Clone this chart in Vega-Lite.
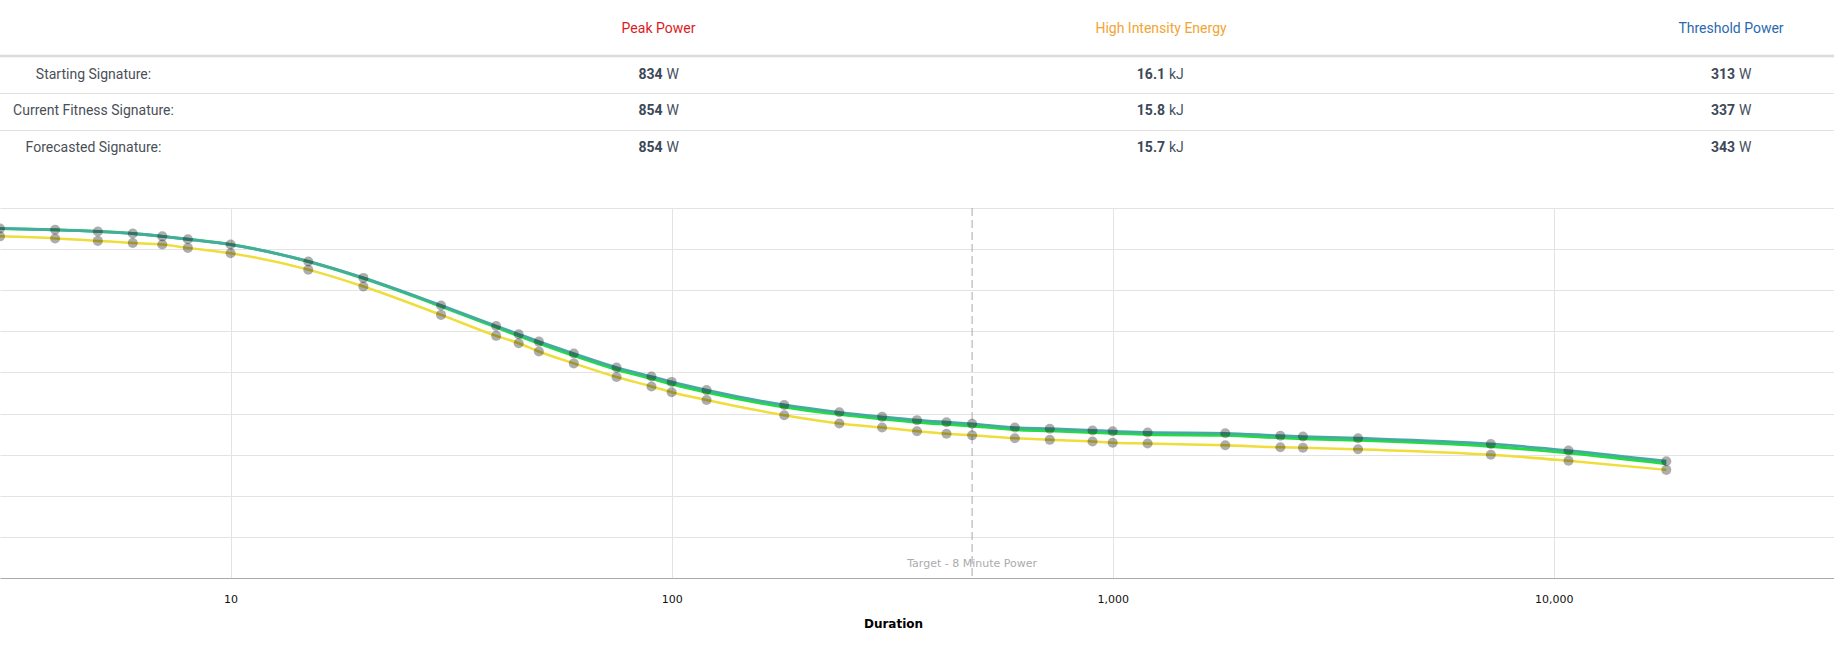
{
  "$schema": "https://vega.github.io/schema/vega-lite/v6.json",
  "padding": 0,
  "spacing": 0,
  "config": {"view": {"stroke": null}, "font": "Roboto", "concat": {"spacing": 0}},
  "datasets": {
    "separators": [
      {"row": 0.5, "kind": "header"},
      {"row": 1.5, "kind": "row"},
      {"row": 2.5, "kind": "row"}
    ],
    "metrics": [
      {"metric": "Peak Power", "col": 1, "row": 0},
      {"metric": "High Intensity Energy", "col": 2, "row": 0},
      {"metric": "Threshold Power", "col": 3, "row": 0}
    ],
    "signatures": [
      {"signature": "Starting Signature:", "col": 0, "row": 1},
      {"signature": "Current Fitness Signature:", "col": 0, "row": 2},
      {"signature": "Forecasted Signature:", "col": 0, "row": 3}
    ],
    "signatureValues": [
      {"signature": "Starting Signature", "row": 1, "metric": "Peak Power", "col": 1, "value": "834", "unit": "W"},
      {"signature": "Starting Signature", "row": 1, "metric": "High Intensity Energy", "col": 2, "value": "16.1", "unit": "kJ"},
      {"signature": "Starting Signature", "row": 1, "metric": "Threshold Power", "col": 3, "value": "313", "unit": "W"},
      {"signature": "Current Fitness Signature", "row": 2, "metric": "Peak Power", "col": 1, "value": "854", "unit": "W"},
      {"signature": "Current Fitness Signature", "row": 2, "metric": "High Intensity Energy", "col": 2, "value": "15.8", "unit": "kJ"},
      {"signature": "Current Fitness Signature", "row": 2, "metric": "Threshold Power", "col": 3, "value": "337", "unit": "W"},
      {"signature": "Forecasted Signature", "row": 3, "metric": "Peak Power", "col": 1, "value": "854", "unit": "W"},
      {"signature": "Forecasted Signature", "row": 3, "metric": "High Intensity Energy", "col": 2, "value": "15.7", "unit": "kJ"},
      {"signature": "Forecasted Signature", "row": 3, "metric": "Threshold Power", "col": 3, "value": "343", "unit": "W"}
    ],
    "annotation": [
      {"duration": 480, "label": "Target - 8 Minute Power"}
    ],
    "curves": [
      {"duration": 3, "signature": "Starting", "watts": 831},
      {"duration": 4, "signature": "Starting", "watts": 826},
      {"duration": 5, "signature": "Starting", "watts": 820},
      {"duration": 6, "signature": "Starting", "watts": 815},
      {"duration": 7, "signature": "Starting", "watts": 811},
      {"duration": 8, "signature": "Starting", "watts": 803},
      {"duration": 10, "signature": "Starting", "watts": 790},
      {"duration": 15, "signature": "Starting", "watts": 750},
      {"duration": 20, "signature": "Starting", "watts": 709},
      {"duration": 30, "signature": "Starting", "watts": 640},
      {"duration": 40, "signature": "Starting", "watts": 589},
      {"duration": 45, "signature": "Starting", "watts": 571},
      {"duration": 50, "signature": "Starting", "watts": 551},
      {"duration": 60, "signature": "Starting", "watts": 522},
      {"duration": 75, "signature": "Starting", "watts": 489},
      {"duration": 90, "signature": "Starting", "watts": 466},
      {"duration": 100, "signature": "Starting", "watts": 452},
      {"duration": 120, "signature": "Starting", "watts": 433},
      {"duration": 180, "signature": "Starting", "watts": 396},
      {"duration": 240, "signature": "Starting", "watts": 376},
      {"duration": 300, "signature": "Starting", "watts": 366},
      {"duration": 360, "signature": "Starting", "watts": 357},
      {"duration": 420, "signature": "Starting", "watts": 351},
      {"duration": 480, "signature": "Starting", "watts": 347},
      {"duration": 600, "signature": "Starting", "watts": 340},
      {"duration": 720, "signature": "Starting", "watts": 336},
      {"duration": 900, "signature": "Starting", "watts": 332},
      {"duration": 1000, "signature": "Starting", "watts": 329},
      {"duration": 1200, "signature": "Starting", "watts": 327},
      {"duration": 1800, "signature": "Starting", "watts": 323},
      {"duration": 2400, "signature": "Starting", "watts": 318},
      {"duration": 2700, "signature": "Starting", "watts": 317},
      {"duration": 3600, "signature": "Starting", "watts": 313},
      {"duration": 7200, "signature": "Starting", "watts": 300},
      {"duration": 10800, "signature": "Starting", "watts": 285},
      {"duration": 18000, "signature": "Starting", "watts": 263},
      {"duration": 3, "signature": "Current", "watts": 850},
      {"duration": 4, "signature": "Current", "watts": 847},
      {"duration": 5, "signature": "Current", "watts": 843},
      {"duration": 6, "signature": "Current", "watts": 838},
      {"duration": 7, "signature": "Current", "watts": 831},
      {"duration": 8, "signature": "Current", "watts": 824},
      {"duration": 10, "signature": "Current", "watts": 811},
      {"duration": 15, "signature": "Current", "watts": 770},
      {"duration": 20, "signature": "Current", "watts": 729},
      {"duration": 30, "signature": "Current", "watts": 661},
      {"duration": 40, "signature": "Current", "watts": 610},
      {"duration": 45, "signature": "Current", "watts": 589},
      {"duration": 50, "signature": "Current", "watts": 571},
      {"duration": 60, "signature": "Current", "watts": 541},
      {"duration": 75, "signature": "Current", "watts": 507},
      {"duration": 90, "signature": "Current", "watts": 485},
      {"duration": 100, "signature": "Current", "watts": 472},
      {"duration": 120, "signature": "Current", "watts": 452},
      {"duration": 180, "signature": "Current", "watts": 416},
      {"duration": 240, "signature": "Current", "watts": 398},
      {"duration": 300, "signature": "Current", "watts": 387},
      {"duration": 360, "signature": "Current", "watts": 379},
      {"duration": 420, "signature": "Current", "watts": 374},
      {"duration": 480, "signature": "Current", "watts": 370},
      {"duration": 600, "signature": "Current", "watts": 361},
      {"duration": 720, "signature": "Current", "watts": 358},
      {"duration": 900, "signature": "Current", "watts": 354},
      {"duration": 1000, "signature": "Current", "watts": 352},
      {"duration": 1200, "signature": "Current", "watts": 349},
      {"duration": 1800, "signature": "Current", "watts": 347},
      {"duration": 2400, "signature": "Current", "watts": 341},
      {"duration": 2700, "signature": "Current", "watts": 339},
      {"duration": 3600, "signature": "Current", "watts": 335},
      {"duration": 7200, "signature": "Current", "watts": 320},
      {"duration": 10800, "signature": "Current", "watts": 304},
      {"duration": 18000, "signature": "Current", "watts": 278},
      {"duration": 3, "signature": "Forecasted", "watts": 850},
      {"duration": 4, "signature": "Forecasted", "watts": 847},
      {"duration": 5, "signature": "Forecasted", "watts": 843},
      {"duration": 6, "signature": "Forecasted", "watts": 838},
      {"duration": 7, "signature": "Forecasted", "watts": 831},
      {"duration": 8, "signature": "Forecasted", "watts": 824},
      {"duration": 10, "signature": "Forecasted", "watts": 811},
      {"duration": 15, "signature": "Forecasted", "watts": 770},
      {"duration": 20, "signature": "Forecasted", "watts": 730},
      {"duration": 30, "signature": "Forecasted", "watts": 663},
      {"duration": 40, "signature": "Forecasted", "watts": 613},
      {"duration": 45, "signature": "Forecasted", "watts": 593},
      {"duration": 50, "signature": "Forecasted", "watts": 575},
      {"duration": 60, "signature": "Forecasted", "watts": 546},
      {"duration": 75, "signature": "Forecasted", "watts": 512},
      {"duration": 90, "signature": "Forecasted", "watts": 490},
      {"duration": 100, "signature": "Forecasted", "watts": 477},
      {"duration": 120, "signature": "Forecasted", "watts": 457},
      {"duration": 180, "signature": "Forecasted", "watts": 421},
      {"duration": 240, "signature": "Forecasted", "watts": 403},
      {"duration": 300, "signature": "Forecasted", "watts": 392},
      {"duration": 360, "signature": "Forecasted", "watts": 384},
      {"duration": 420, "signature": "Forecasted", "watts": 379},
      {"duration": 480, "signature": "Forecasted", "watts": 375},
      {"duration": 600, "signature": "Forecasted", "watts": 366},
      {"duration": 720, "signature": "Forecasted", "watts": 363},
      {"duration": 900, "signature": "Forecasted", "watts": 359},
      {"duration": 1000, "signature": "Forecasted", "watts": 357},
      {"duration": 1200, "signature": "Forecasted", "watts": 354},
      {"duration": 1800, "signature": "Forecasted", "watts": 352},
      {"duration": 2400, "signature": "Forecasted", "watts": 346},
      {"duration": 2700, "signature": "Forecasted", "watts": 344},
      {"duration": 3600, "signature": "Forecasted", "watts": 340},
      {"duration": 7200, "signature": "Forecasted", "watts": 326},
      {"duration": 10800, "signature": "Forecasted", "watts": 310},
      {"duration": 18000, "signature": "Forecasted", "watts": 284}
    ]
  },
  "vconcat": [
    {
      "width": 1834,
      "height": 207,
      "layer": [
        {
          "data": {"name": "separators"},
          "transform": [{"filter": "datum.kind === 'header'"}],
          "mark": {"type": "tick", "orient": "horizontal", "color": "#dcdcdc", "thickness": 2.5, "size": 1834, "opacity": 1},
          "encoding": {
            "y": {"field": "row", "type": "quantitative", "axis": null,
                  "scale": {"type": "linear", "domain": [0, 0.5, 1, 1.5, 2, 2.5, 3], "range": [29, 56, 74.5, 93.5, 111, 130.5, 148], "nice": false, "zero": false}}
          }
        },
        {
          "data": {"name": "separators"},
          "transform": [{"filter": "datum.kind === 'row'"}],
          "mark": {"type": "tick", "orient": "horizontal", "color": "#e0e0e0", "thickness": 1, "size": 1834, "opacity": 1},
          "encoding": {
            "y": {"field": "row", "type": "quantitative", "axis": null}
          }
        },
        {
          "data": {"name": "metrics"},
          "mark": {"type": "text", "font": "Roboto", "fontSize": 14, "baseline": "middle", "align": "center"},
          "encoding": {
            "x": {"field": "col", "type": "quantitative", "axis": null,
                  "scale": {"type": "linear", "domain": [0, 1, 2, 3], "range": [93.5, 658.5, 1161, 1731], "nice": false, "zero": false}},
            "y": {"field": "row", "type": "quantitative", "axis": null},
            "text": {"field": "metric", "type": "nominal"},
            "color": {"field": "metric", "type": "nominal", "legend": null,
                      "scale": {"domain": ["Peak Power", "High Intensity Energy", "Threshold Power"], "range": ["#dd1a22", "#f0a535", "#2b69ae"]}}
          }
        },
        {
          "data": {"name": "signatures"},
          "mark": {"type": "text", "font": "Roboto", "fontSize": 14, "baseline": "middle", "align": "center", "color": "#4a4f57"},
          "encoding": {
            "x": {"field": "col", "type": "quantitative", "axis": null},
            "y": {"field": "row", "type": "quantitative", "axis": null},
            "text": {"field": "signature", "type": "nominal"}
          }
        },
        {
          "data": {"name": "signatureValues"},
          "mark": {"type": "text", "font": "Roboto", "fontSize": 14, "fontWeight": "bold", "baseline": "middle", "align": "right", "dx": 4, "color": "#3d4858"},
          "encoding": {
            "x": {"field": "col", "type": "quantitative", "axis": null},
            "y": {"field": "row", "type": "quantitative", "axis": null},
            "text": {"field": "value", "type": "nominal"}
          }
        },
        {
          "data": {"name": "signatureValues"},
          "mark": {"type": "text", "font": "Roboto", "fontSize": 14, "baseline": "middle", "align": "left", "dx": 8, "color": "#46505f"},
          "encoding": {
            "x": {"field": "col", "type": "quantitative", "axis": null},
            "y": {"field": "row", "type": "quantitative", "axis": null},
            "text": {"field": "unit", "type": "nominal"}
          }
        }
      ]
    },
    {
      "width": 1834,
      "height": 370,
      "layer": [
        {
          "data": {"name": "curves"},
          "transform": [{"filter": "datum.signature === 'Starting'"}],
          "mark": {"type": "line", "color": "#efdd3a", "strokeWidth": 2.5, "interpolate": "monotone", "clip": true},
          "encoding": {
            "x": {"field": "duration", "type": "quantitative", "title": "Duration",
                  "scale": {"type": "log", "domain": [3, 43200], "nice": false},
                  "axis": {"values": [10, 100, 1000, 10000], "format": ",", "grid": true, "gridColor": "#e3e3e3", "gridWidth": 1,
                           "ticks": false, "tickSize": 0, "domainColor": "#aaaaaa", "domainWidth": 1,
                           "labelFont": "DejaVu Sans", "labelFontSize": 11, "labelColor": "#111111", "labelPadding": 15,
                           "titleFont": "DejaVu Sans", "titleFontSize": 12, "titleFontWeight": "bold", "titleColor": "#000000",
                           "titleX": 893, "titleY": 49, "titleBaseline": "alphabetic"}},
            "y": {"field": "watts", "type": "quantitative",
                  "scale": {"domain": [0, 900], "nice": false, "zero": true},
                  "axis": {"values": [100, 200, 300, 400, 500, 600, 700, 800, 900], "grid": true, "gridColor": "#e3e3e3", "gridWidth": 1,
                           "labels": false, "ticks": false, "domain": false, "title": null}}
          }
        },
        {
          "data": {"name": "curves"},
          "transform": [{"filter": "datum.signature === 'Current'"}],
          "mark": {"type": "line", "color": "#22dc42", "strokeWidth": 3, "interpolate": "monotone", "clip": true},
          "encoding": {
            "x": {"field": "duration", "type": "quantitative"},
            "y": {"field": "watts", "type": "quantitative"}
          }
        },
        {
          "data": {"name": "curves"},
          "transform": [{"filter": "datum.signature === 'Forecasted'"}],
          "mark": {"type": "line", "color": "#47aaa0", "strokeWidth": 2.8, "interpolate": "monotone", "clip": true},
          "encoding": {
            "x": {"field": "duration", "type": "quantitative"},
            "y": {"field": "watts", "type": "quantitative"}
          }
        },
        {
          "data": {"name": "annotation"},
          "mark": {"type": "rule", "color": "#a8a8a8", "strokeWidth": 1, "strokeDash": [8, 4]},
          "encoding": {
            "x": {"field": "duration", "type": "quantitative"}
          }
        },
        {
          "data": {"name": "curves"},
          "transform": [{"filter": "datum.signature !== 'Current'"}],
          "mark": {"type": "circle", "size": 100, "color": "#000000", "opacity": 0.32, "clip": true},
          "encoding": {
            "x": {"field": "duration", "type": "quantitative"},
            "y": {"field": "watts", "type": "quantitative"}
          }
        },
        {
          "data": {"name": "annotation"},
          "mark": {"type": "text", "font": "DejaVu Sans", "fontSize": 11, "color": "#ababab", "baseline": "alphabetic", "align": "center", "dy": -11},
          "encoding": {
            "x": {"field": "duration", "type": "quantitative"},
            "y": {"datum": 0, "type": "quantitative"},
            "text": {"field": "label", "type": "nominal"}
          }
        }
      ]
    }
  ]
}
